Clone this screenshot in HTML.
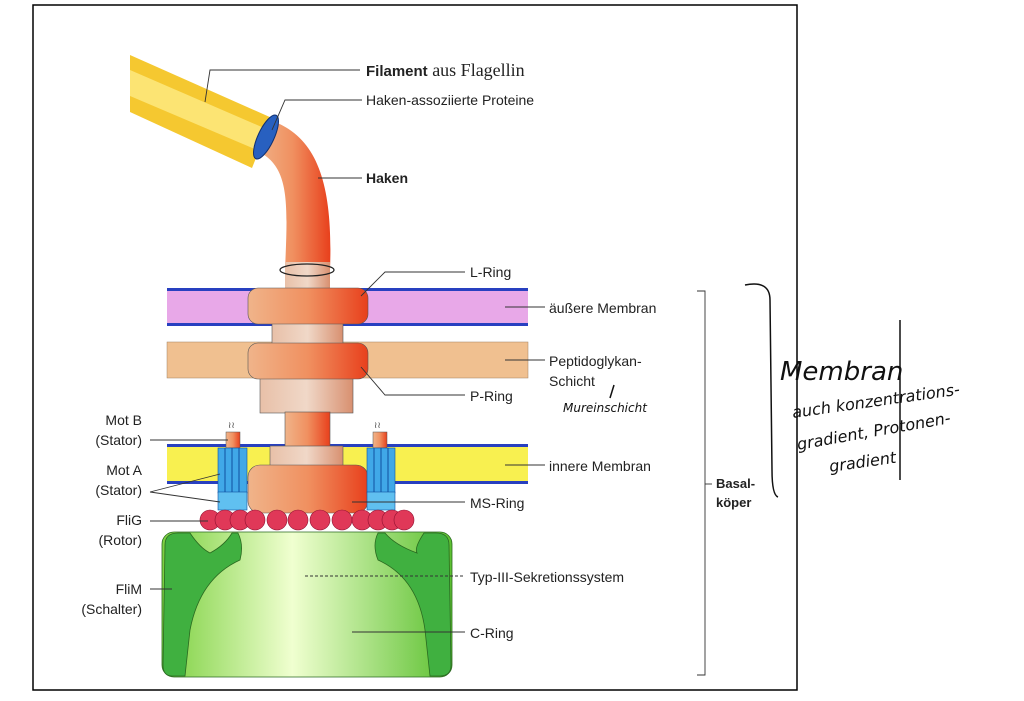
<!DOCTYPE html>
<html><head><meta charset="utf-8"><style>
body{margin:0;background:#fff}
svg{display:block;font-family:"Liberation Sans",sans-serif}
</style></head><body>
<svg width="1024" height="701" viewBox="0 0 1024 701">
<defs>
<linearGradient id="org" x1="0" x2="1"><stop offset="0" stop-color="#f0b48a"/><stop offset="0.5" stop-color="#f09060"/><stop offset="1" stop-color="#e8401c"/></linearGradient>
<linearGradient id="pale" x1="0" x2="1"><stop offset="0" stop-color="#e8c0a8"/><stop offset="0.5" stop-color="#f0d8c8"/><stop offset="1" stop-color="#d89070"/></linearGradient>
<linearGradient id="grn" x1="0" x2="1"><stop offset="0" stop-color="#7cd040"/><stop offset="0.45" stop-color="#f0ffd0"/><stop offset="1" stop-color="#5cc030"/></linearGradient>
<linearGradient id="fade" x1="0" x2="1"><stop offset="0" stop-color="#fff" stop-opacity="1"/><stop offset="0.12" stop-color="#fff" stop-opacity="0"/></linearGradient>
</defs>
<rect x="33" y="5" width="764" height="685" fill="#fff" stroke="#000" stroke-width="1.5"/>
<!-- filament -->
<path d="M130 55 L272 118 L252 168 L130 112 Z" fill="#f5c830"/>
<path d="M130 70 L264 128 L257 150 L130 96 Z" fill="#fff090" opacity="0.7"/>
<!-- hook -->
<path d="M255 150 C290 165 288 200 285 270 L330 270 C333 190 320 140 275 122 Z" fill="url(#org)"/>
<ellipse cx="266" cy="137" rx="8" ry="24" transform="rotate(25 266 137)" fill="#2860c0" stroke="#103070"/>
<rect x="285" y="262" width="45" height="28" fill="url(#pale)"/>
<ellipse cx="307" cy="270" rx="27" ry="6" fill="none" stroke="#222" stroke-width="1.2"/>
<!-- membranes -->
<rect x="167" y="289" width="361" height="36" fill="#e8a8e8"/>
<rect x="167" y="288" width="361" height="3" fill="#2840c0"/><rect x="167" y="323" width="361" height="3" fill="#2840c0"/>
<rect x="167" y="342" width="361" height="36" fill="#f0c090" stroke="#a08060" stroke-width="0.5"/>
<rect x="167" y="445" width="361" height="38" fill="#f8f050"/>
<rect x="167" y="444" width="361" height="3" fill="#2840c0"/><rect x="167" y="481" width="361" height="3" fill="#2840c0"/>
<rect x="160" y="285" width="60" height="200" fill="url(#fade)"/>
<!-- rod & rings -->
<rect x="272" y="322" width="71" height="22" fill="url(#pale)" stroke="#555" stroke-width="0.6"/>
<rect x="248" y="288" width="120" height="36" rx="10" fill="url(#org)" stroke="#555" stroke-width="0.6"/>
<rect x="260" y="377" width="93" height="36" fill="url(#pale)" stroke="#555" stroke-width="0.6"/>
<rect x="248" y="343" width="120" height="36" rx="10" fill="url(#org)" stroke="#555" stroke-width="0.6"/>
<rect x="285" y="412" width="45" height="36" fill="url(#org)" stroke="#555" stroke-width="0.6"/>
<rect x="270" y="446" width="73" height="22" fill="url(#pale)" stroke="#555" stroke-width="0.6"/>
<rect x="248" y="465" width="120" height="48" rx="12" fill="url(#org)" stroke="#555" stroke-width="0.6"/>
<!-- stators -->
<g>
<rect x="226" y="432" width="14" height="16" fill="url(#org)" stroke="#555" stroke-width="0.5"/>
<rect x="218" y="448" width="29" height="45" fill="#40a8e8" stroke="#1050a0" stroke-width="0.6"/>
<path d="M225 448V493M232 448V493M239 448V493" stroke="#1050a0" stroke-width="1"/>
<rect x="218" y="492" width="29" height="18" fill="#60c0f0" stroke="#1050a0" stroke-width="0.6"/>
<text x="228" y="428" font-size="9" fill="#444">≀≀</text></g>
<g>
<rect x="373" y="432" width="14" height="16" fill="url(#org)" stroke="#555" stroke-width="0.5"/>
<rect x="367" y="448" width="28" height="45" fill="#40a8e8" stroke="#1050a0" stroke-width="0.6"/>
<path d="M374 448V493M381 448V493M388 448V493" stroke="#1050a0" stroke-width="1"/>
<rect x="367" y="492" width="28" height="18" fill="#60c0f0" stroke="#1050a0" stroke-width="0.6"/>
<text x="374" y="428" font-size="9" fill="#444">≀≀</text></g>
<!-- balls -->
<g fill="#e03858" stroke="#901030" stroke-width="0.6">
<circle cx="210" cy="520" r="10"/><circle cx="225" cy="520" r="10"/><circle cx="240" cy="520" r="10"/><circle cx="255" cy="520" r="10"/><circle cx="277" cy="520" r="10"/><circle cx="298" cy="520" r="10"/><circle cx="320" cy="520" r="10"/><circle cx="342" cy="520" r="10"/><circle cx="362" cy="520" r="10"/><circle cx="378" cy="520" r="10"/><circle cx="392" cy="520" r="10"/><circle cx="404" cy="520" r="10"/></g>
<!-- C ring -->
<rect x="162" y="532" width="290" height="145" rx="12" fill="url(#grn)" stroke="#2a6a20" stroke-width="0.8"/>
<path d="M165 545 Q165 533 178 533 L190 533 Q200 548 210 553 Q225 545 232 533 L238 533 Q244 545 240 560 Q200 578 190 630 L185 676 L172 676 Q163 676 163 665 Z" fill="#40b040" stroke="#2a6a20" stroke-width="0.8"/>
<path d="M449 545 Q449 533 436 533 L424 533 Q414 548 417 553 Q395 545 385 533 L378 533 Q372 545 378 560 Q418 578 425 630 L430 676 L440 676 Q451 676 451 665 Z" fill="#40b040" stroke="#2a6a20" stroke-width="0.8"/>
<!-- leader lines -->
<g stroke="#333" stroke-width="0.9" fill="none">
<path d="M205 102 L210 70 L360 70"/><path d="M272 130 L285 100 L362 100"/><path d="M318 178 L362 178"/>
<path d="M361 296 L385 272 L465 272"/><path d="M505 307 L545 307"/><path d="M505 360 L545 360"/>
<path d="M361 367 L385 395 L465 395"/><path d="M505 465 L545 465"/><path d="M352 502 L465 502"/>
<path d="M305 576 L465 576" stroke-dasharray="3,2"/><path d="M352 632 L465 632"/>
<path d="M150 440 L228 440"/><path d="M150 492 L220 474 M150 492 L220 502"/><path d="M150 521 L208 521"/><path d="M150 589 L172 589"/>
<path d="M697 291 L705 291 L705 675 L697 675"/><path d="M705 484 L712 484"/>
</g>
<!-- labels -->
<g font-size="14" fill="#222">
<text x="366" y="76" font-family="Liberation Serif" font-size="18"><tspan font-weight="bold" font-family="Liberation Sans" font-size="15">Filament</tspan> aus Flagellin</text>
<text x="366" y="105">Haken-assoziierte Proteine</text>
<text x="366" y="183" font-weight="bold">Haken</text>
<text x="470" y="277">L-Ring</text>
<text x="549" y="313">äußere Membran</text>
<text x="549" y="366">Peptidoglykan-</text>
<text x="549" y="386">Schicht</text>
<text x="470" y="401">P-Ring</text>
<text x="549" y="471">innere Membran</text>
<text x="470" y="508">MS-Ring</text>
<text x="470" y="582">Typ-III-Sekretionssystem</text>
<text x="470" y="638">C-Ring</text>
<g text-anchor="end"><text x="142" y="425">Mot B</text><text x="142" y="445">(Stator)</text>
<text x="142" y="475">Mot A</text><text x="142" y="495">(Stator)</text>
<text x="142" y="525">FliG</text><text x="142" y="545">(Rotor)</text>
<text x="142" y="594">FliM</text><text x="142" y="614">(Schalter)</text></g>
<text x="716" y="488" font-size="13" font-weight="bold">Basal-</text>
<text x="716" y="507" font-size="13" font-weight="bold">köper</text>
</g>
<!-- handwriting -->
<g fill="none" stroke="#111" stroke-width="1.5">
<path d="M745 285 Q770 280 770 300 L772 470 Q772 495 778 497"/><path d="M900 320 L900 480"/><path d="M614 385 L610 398"/>
</g>
<g font-family="'DejaVu Sans',sans-serif" fill="#111" font-style="italic">
<text x="780" y="380" font-size="26">Membran</text>
<text x="793" y="418" font-size="16" transform="rotate(-8 793 418)">auch konzentrations-</text>
<text x="798" y="450" font-size="16" transform="rotate(-10 798 450)">gradient, Protonen-</text>
<text x="830" y="472" font-size="16" transform="rotate(-8 830 472)">gradient</text>
<text x="563" y="412" font-size="12">Mureinschicht</text>
</g>
</svg>
</body></html>
